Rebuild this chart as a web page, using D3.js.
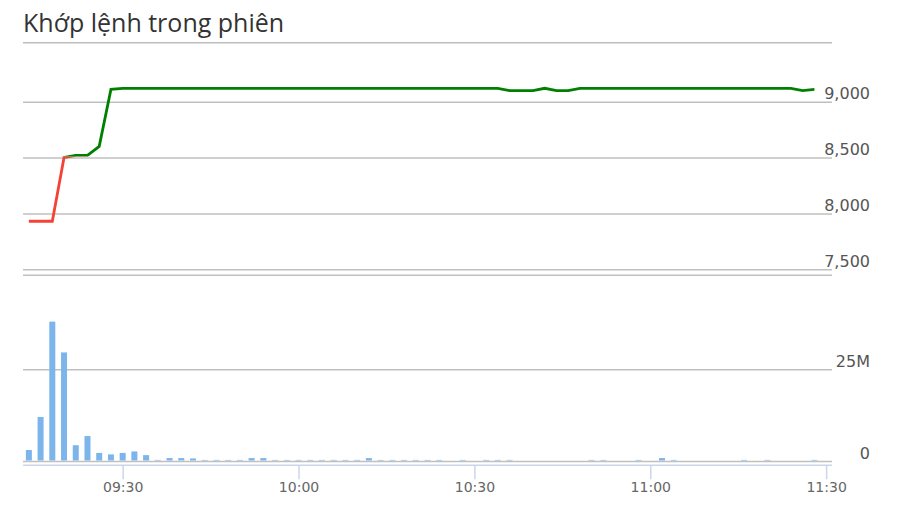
<!DOCTYPE html>
<html>
<head>
<meta charset="utf-8">
<script src="https://cdn.jsdelivr.net/npm/d3@7"></script>
<style>
body{margin:0;background:#fff;}
svg{display:block;}
</style>
</head>
<body>
<script>
// khop lenh, 2 phut / diem
var times = [
	"09:14","09:16","09:18","09:20","09:22","09:24","09:26","09:28",
	"09:30","09:32","09:34","09:36","09:38","09:40","09:42","09:44","09:46","09:48","09:50","09:52","09:54","09:56","09:58",
	"10:00","10:02","10:04","10:06","10:08","10:10","10:12","10:14","10:16","10:18","10:20","10:22","10:24","10:26","10:28",
	"10:30","10:32","10:34","10:36","10:38","10:40","10:42","10:44","10:46","10:48","10:50","10:52","10:54","10:56","10:58",
	"11:00","11:02","11:04","11:06","11:08","11:10","11:12","11:14","11:16","11:18","11:20","11:22","11:24","11:26","11:28"
];
var prices = [
	7930,7930,7930,8500,8520,8520,8600,9110,
	9120,9120,9120,9120,9120,9120,9120,9120,9120,9120,9120,9120,9120,9120,9120,
	9120,9120,9120,9120,9120,9120,9120,9120,9120,9120,9120,9120,9120,9120,9120,
	9120,9120,9120,9100,9100,9100,9120,9100,9100,9120,9120,9120,9120,9120,9120,
	9120,9120,9120,9120,9120,9120,9120,9120,9120,9120,9120,9120,9120,9100,9110
];
// trieu co phieu
var volumes = [
	3.0,12.0,38.0,29.6,4.3,6.8,2.2,1.8,
	2.2,2.6,1.6,0.3,0.8,0.8,0.7,0.3,0.3,0.3,0.3,0.8,0.8,0.3,0.3,
	0.3,0.3,0.3,0.3,0.3,0.3,0.8,0.3,0.3,0.3,0.3,0.3,0.3,0,0.3,
	0,0.3,0.3,0.3,0,0,0,0,0,0,0.3,0.3,0,0,0.3,
	0,0.8,0.3,0,0,0,0,0,0.3,0,0.3,0,0,0,0.3
];
var priceTicks = [7500, 8000, 8500, 9000];
var volumeTicks = [0, 25];
var timeTicks = ["09:30", "10:00", "10:30", "11:00", "11:30"];
var timeDomain = ["09:13", "11:31"];
var refPrice = 8510;

var W = 902, H = 527;
var left = 23, right = 832;
var parse = d3.timeParse("%H:%M");

var svg = d3.select("body").append("svg")
	.attr("width", W)
	.attr("height", H);

var x = d3.scaleTime()
	.domain(timeDomain.map(parse))
	.range([left, right]);

var yPrice = d3.scaleLinear()
	.domain([7500, 9000])
	.range([269.3, 101.7]);

var yVol = d3.scaleLinear()
	.domain([0, 25])
	.range([461, 369.3]);

// title
svg.append("text")
	.attr("x", left)
	.attr("y", 32)
	.attr("font-family", "Open Sans, Noto Sans, sans-serif")
	.attr("font-size", "25px")
	.attr("fill", "#333")
	.text("Khớp lệnh trong phiên");

svg.append("line")
	.attr("x1", left).attr("x2", right)
	.attr("y1", 42.7).attr("y2", 42.7)
	.attr("stroke", "#bdbdbd")
	.attr("stroke-width", 1.5);

// gridlines + right labels
var priceAxis = d3.axisRight(yPrice)
	.tickValues(priceTicks)
	.tickSize(-(right - left))
	.tickFormat(d3.format(","));

var gP = svg.append("g")
	.attr("transform", "translate(" + right + ",0)")
	.call(priceAxis);

var volAxis = d3.axisRight(yVol)
	.tickValues(volumeTicks)
	.tickSize(-(right - left))
	.tickFormat(function(d){ return d == 0 ? "0" : d + "M"; });

var gV = svg.append("g")
	.attr("transform", "translate(" + right + ",0)")
	.call(volAxis);

[gP, gV].forEach(function(g){
	g.select(".domain").remove();
	g.selectAll(".tick line")
		.attr("stroke", "#c0c0c0")
		.attr("stroke-width", 1.5);
	g.selectAll(".tick text")
		.attr("x", 38)
		.attr("dy", -3)
		.attr("text-anchor", "end")
		.attr("font-family", "DejaVu Sans, Verdana, sans-serif")
		.attr("font-size", "16px")
		.attr("fill", "#555");
});

// volume pane top
svg.append("line")
	.attr("x1", left).attr("x2", right)
	.attr("y1", 275.3).attr("y2", 275.3)
	.attr("stroke", "#c0c0c0")
	.attr("stroke-width", 1.5);

// bars
var barW = 6;
svg.append("g")
	.selectAll("rect")
	.data(volumes.map(function(v, i){ return {t: parse(times[i]), v: v}; })
		.filter(function(d){ return d.v > 0; }))
	.enter()
	.append("rect")
	.attr("x", function(d){ return x(d.t) - barW / 2; })
	.attr("y", function(d){ return yVol(d.v); })
	.attr("width", barW)
	.attr("height", function(d){ return yVol(0) - yVol(d.v) - 0.5; })
	.attr("fill", "#7cb5ec");

// x axis
var xAxis = d3.axisBottom(x)
	.tickValues(timeTicks.map(parse))
	.tickSize(14)
	.tickFormat(d3.timeFormat("%H:%M"));

var gX = svg.append("g")
	.attr("transform", "translate(0,465.3)")
	.call(xAxis);

gX.select(".domain")
	.attr("d", "M" + left + ",0H" + right)
	.attr("stroke", "#ccd6eb")
	.attr("stroke-width", 1.5);
gX.selectAll(".tick line")
	.attr("stroke", "#ccd6eb")
	.attr("stroke-width", 1.5);
gX.selectAll(".tick text")
	.attr("y", 17)
	.attr("dy", "0.71em")
	.attr("font-family", "DejaVu Sans, Verdana, sans-serif")
	.attr("font-size", "14px")
	.attr("fill", "#666");

// price line, do duoi gia tham chieu, xanh tren
var pts = prices.map(function(p, i){ return {t: parse(times[i]), p: p}; });
var line = d3.line()
	.x(function(d){ return x(d.t); })
	.y(function(d){ return yPrice(d.p); });

var defs = svg.append("defs");
defs.append("clipPath").attr("id", "clipUp")
	.append("rect")
	.attr("x", 0).attr("y", 0)
	.attr("width", W).attr("height", yPrice(refPrice));
defs.append("clipPath").attr("id", "clipDown")
	.append("rect")
	.attr("x", 0).attr("y", yPrice(refPrice))
	.attr("width", W).attr("height", H);

svg.append("path")
	.datum(pts)
	.attr("d", line)
	.attr("fill", "none")
	.attr("stroke", "#f44336")
	.attr("stroke-width", 2.8)
	.attr("clip-path", "url(#clipDown)");

svg.append("path")
	.datum(pts)
	.attr("d", line)
	.attr("fill", "none")
	.attr("stroke", "#008000")
	.attr("stroke-width", 2.8)
	.attr("clip-path", "url(#clipUp)");
</script>
</body>
</html>
